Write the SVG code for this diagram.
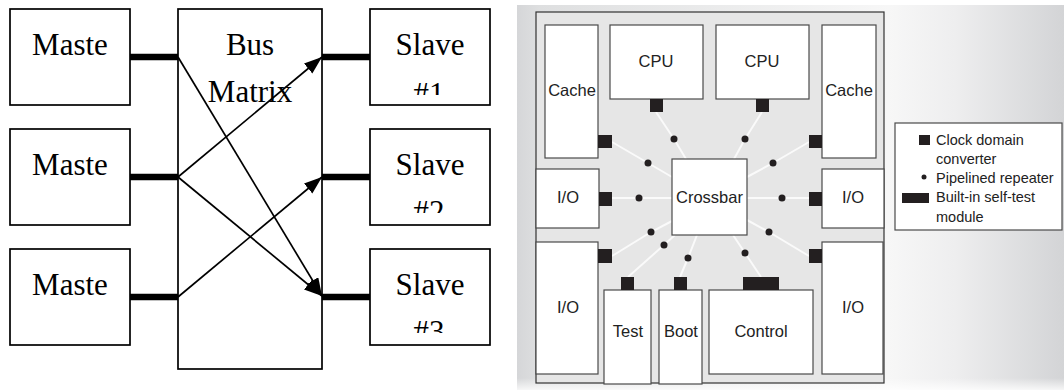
<svg xmlns="http://www.w3.org/2000/svg" width="1064" height="390" viewBox="0 0 1064 390">
  <style>
    .box { fill: #fff; stroke: #000; stroke-width: 1.7; }
    .serif { font-family: "Liberation Serif", "Times New Roman", serif; font-size: 31px; fill: #000; text-anchor: middle; }
    .bus { stroke: #000; stroke-width: 6.5; fill: none; }
    .wire { stroke: #000; stroke-width: 1.7; fill: none; marker-end: url(#head); }
    .blk { fill: #fff; stroke: #4a4a4a; stroke-width: 1.2; }
    .sans { font-family: "Liberation Sans", Arial, sans-serif; font-size: 16.5px; fill: #222; text-anchor: middle; }
    .leg { font-family: "Liberation Sans", Arial, sans-serif; font-size: 14.5px; fill: #222; }
    .cdc { fill: #231f20; }
    .rep { fill: #231f20; }
    .link { stroke: #fafafa; stroke-width: 2; fill: none; }
  </style>
  <defs>
    <marker id="head" markerUnits="userSpaceOnUse" markerWidth="20" markerHeight="15" refX="18" refY="6.5" orient="auto">
      <path d="M0,0 L18,6.5 L0,13 Z" fill="#000"/>
    </marker>
    <clipPath id="clipS1"><rect x="370" y="9" width="120" height="86"/></clipPath>
    <clipPath id="clipS2"><rect x="370" y="129" width="120" height="84"/></clipPath>
    <clipPath id="clipS3"><rect x="370" y="249" width="120" height="84"/></clipPath>
    <linearGradient id="panel" x1="0" y1="0" x2="1" y2="0">
      <stop offset="0" stop-color="#d5d6d8"/>
      <stop offset="0.04" stop-color="#dedfe0"/>
      <stop offset="0.68" stop-color="#f7f7f7"/>
      <stop offset="0.8" stop-color="#eeeeef"/>
      <stop offset="1" stop-color="#d3d4d6"/>
    </linearGradient>
    <linearGradient id="fadeBottom" x1="0" y1="0" x2="0" y2="1">
      <stop offset="0" stop-color="#fff" stop-opacity="0"/>
      <stop offset="1" stop-color="#fff" stop-opacity="0.8"/>
    </linearGradient>
  </defs>

  <rect width="1064" height="390" fill="#fff"/>

  <!-- ===== Bus matrix (left) ===== -->
  <g id="master1"><rect class="box" x="10" y="9" width="120" height="96"/><text class="serif" x="70" y="55">Maste</text></g>
  <g id="master2"><rect class="box" x="10" y="129" width="120" height="96"/><text class="serif" x="70" y="175">Maste</text></g>
  <g id="master3"><rect class="box" x="10" y="249" width="120" height="96"/><text class="serif" x="70" y="295">Maste</text></g>

  <g id="busmatrix"><rect class="box" x="178" y="9" width="144" height="360"/>
    <text class="serif" x="250" y="55">Bus</text>
    <text class="serif" x="250" y="102">Matrix</text>
  </g>

  <g id="slave1"><rect class="box" x="370" y="9" width="120" height="96"/>
    <text class="serif" x="430" y="55">Slave</text>
    <text class="serif" x="429" y="104" clip-path="url(#clipS1)">#1</text></g>
  <g id="slave2"><rect class="box" x="370" y="129" width="120" height="96"/>
    <text class="serif" x="430" y="175">Slave</text>
    <text class="serif" x="429" y="222" clip-path="url(#clipS2)">#2</text></g>
  <g id="slave3"><rect class="box" x="370" y="249" width="120" height="96"/>
    <text class="serif" x="430" y="295">Slave</text>
    <text class="serif" x="429" y="342" clip-path="url(#clipS3)">#3</text></g>

  <g id="bus-connectors">
    <line class="bus" x1="130" y1="57" x2="178" y2="57"/>
    <line class="bus" x1="130" y1="177" x2="178" y2="177"/>
    <line class="bus" x1="130" y1="297" x2="178" y2="297"/>
    <line class="bus" x1="322" y1="57" x2="370" y2="57"/>
    <line class="bus" x1="322" y1="177" x2="370" y2="177"/>
    <line class="bus" x1="322" y1="297" x2="370" y2="297"/>
    <line class="wire" x1="178" y1="57" x2="322" y2="296"/>
    <line class="wire" x1="178" y1="177" x2="322" y2="57"/>
    <line class="wire" x1="178" y1="177" x2="322" y2="296"/>
    <line class="wire" x1="178" y1="297" x2="322" y2="177"/>
  </g>

  <!-- ===== On-chip crossbar (right) ===== -->
  <rect x="517" y="5" width="547" height="385" fill="url(#panel)"/>
  <rect x="517" y="378" width="547" height="12" fill="url(#fadeBottom)"/>
  <rect id="chip" x="536" y="12" width="348" height="371" fill="#e6e6e6" stroke="#333" stroke-width="1.2"/>

  <g id="links">
    <polyline class="link" points="656,112 674,139 686,159"/>
    <polyline class="link" points="762,112 745,139 734,159"/>
    <polyline class="link" points="612,142 648,163 672,177"/>
    <polyline class="link" points="809,142 773,163 747,177"/>
    <polyline class="link" points="612,198 639,198 672,198"/>
    <polyline class="link" points="809,198 782,198 747,198"/>
    <polyline class="link" points="612,256 651,232 672,221"/>
    <polyline class="link" points="809,256 769,232 747,220"/>
    <polyline class="link" points="628,277 664,245 675,235"/>
    <polyline class="link" points="680,277 688,258 697,235"/>
    <polyline class="link" points="761,277 745,253 733,235"/>
  </g>

  <g id="cache-left"><rect class="blk" x="545" y="25" width="53" height="133"/><text class="sans" x="572" y="96">Cache</text></g>
  <g id="cpu1"><rect class="blk" x="610" y="25" width="93" height="74"/><text class="sans" x="656" y="67">CPU</text></g>
  <g id="cpu2"><rect class="blk" x="716" y="25" width="93" height="74"/><text class="sans" x="762" y="67">CPU</text></g>
  <g id="cache-right"><rect class="blk" x="822" y="25" width="54" height="133"/><text class="sans" x="849" y="96">Cache</text></g>
  <g id="io-left-upper"><rect class="blk" x="536" y="169" width="63" height="59"/><text class="sans" x="568" y="203">I/O</text></g>
  <g id="io-right-upper"><rect class="blk" x="822" y="169" width="62" height="59"/><text class="sans" x="853" y="203">I/O</text></g>
  <g id="crossbar"><rect class="blk" x="672" y="159" width="75" height="76"/><text class="sans" x="709.500" y="203">Crossbar</text></g>
  <g id="io-left-lower"><rect class="blk" x="536" y="242" width="62" height="132"/><text class="sans" x="568" y="313">I/O</text></g>
  <g id="io-right-lower"><rect class="blk" x="822" y="242" width="61" height="132"/><text class="sans" x="853" y="313">I/O</text></g>
  <g id="test"><rect class="blk" x="604" y="290" width="47" height="94"/><text class="sans" x="628" y="337">Test</text></g>
  <g id="boot"><rect class="blk" x="659" y="290" width="43" height="94"/><text class="sans" x="681" y="337">Boot</text></g>
  <g id="control"><rect class="blk" x="709" y="290" width="104" height="84"/><text class="sans" x="761" y="337">Control</text></g>

  <g id="converters">
    <rect class="cdc" x="650" y="99" width="13" height="13"/>
    <rect class="cdc" x="756" y="99" width="13" height="13"/>
    <rect class="cdc" x="598" y="135" width="14" height="13"/>
    <rect class="cdc" x="809" y="135" width="13" height="13"/>
    <rect class="cdc" x="599" y="192" width="13" height="14"/>
    <rect class="cdc" x="809" y="192" width="13" height="14"/>
    <rect class="cdc" x="598" y="249" width="14" height="14"/>
    <rect class="cdc" x="809" y="249" width="13" height="14"/>
    <rect class="cdc" x="621" y="277" width="13" height="13"/>
    <rect class="cdc" x="674" y="277" width="13" height="13"/>
    <rect class="cdc" x="743" y="277" width="36" height="13"/>
  </g>

  <g id="repeaters">
    <circle class="rep" cx="674" cy="139" r="3.5"/>
    <circle class="rep" cx="745" cy="139" r="3.5"/>
    <circle class="rep" cx="648" cy="163" r="3.5"/>
    <circle class="rep" cx="773" cy="163" r="3.5"/>
    <circle class="rep" cx="639" cy="198" r="3.5"/>
    <circle class="rep" cx="782" cy="198" r="3.5"/>
    <circle class="rep" cx="651" cy="232" r="3.5"/>
    <circle class="rep" cx="769" cy="232" r="3.5"/>
    <circle class="rep" cx="664" cy="245" r="3.5"/>
    <circle class="rep" cx="688" cy="258" r="3.5"/>
    <circle class="rep" cx="745" cy="253" r="3.5"/>
  </g>

  <g id="legend">
    <rect x="895" y="123" width="167" height="107" fill="#fff" stroke="#4a4a4a" stroke-width="1.2"/>
    <rect class="cdc" x="919" y="135" width="11" height="10"/>
    <text class="leg" x="936" y="145">Clock domain</text>
    <text class="leg" x="936" y="164">converter</text>
    <circle class="rep" cx="924" cy="177" r="2.5"/>
    <text class="leg" x="936" y="183">Pipelined repeater</text>
    <rect class="cdc" x="902" y="193" width="27" height="10"/>
    <text class="leg" x="936" y="202">Built-in self-test</text>
    <text class="leg" x="936" y="222">module</text>
  </g>
</svg>
